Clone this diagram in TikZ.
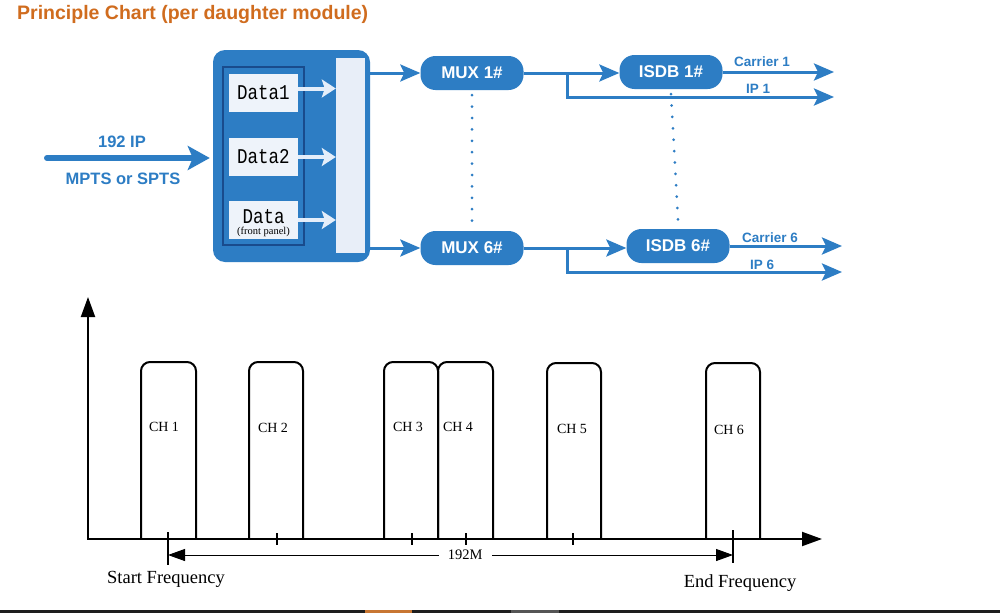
\documentclass[tikz,border=0pt]{standalone}
\usepackage{fontspec}
\setmainfont{Liberation Serif}
\newfontfamily\arialf{Liberation Sans}
\newfontfamily\monof{Liberation Mono}
\usetikzlibrary{arrows.meta}
\definecolor{mblue}{RGB}{45,125,196}
\definecolor{dborder}{RGB}{25,75,140}
\definecolor{dbox}{RGB}{238,243,250}
\definecolor{barfill}{RGB}{232,238,248}
\definecolor{wline}{RGB}{228,238,250}
\definecolor{ttl}{RGB}{208,108,30}
\definecolor{botbar}{RGB}{30,30,30}
\definecolor{botor}{RGB}{200,118,50}
\definecolor{botgr}{RGB}{85,85,85}
\begin{document}
\begin{tikzpicture}[x=1pt,y=-1pt,
  pill/.style={fill=mblue, rounded corners=15pt, minimum width=103pt, minimum height=34pt,
    inner sep=0pt, text=white, font=\arialf\bfseries\fontsize{17}{20}\selectfont},
  bluelabel/.style={text=mblue, inner sep=0pt, font=\arialf\bfseries\fontsize{13.5}{16}\selectfont},
  inlabel/.style={text=mblue, inner sep=0pt, font=\arialf\bfseries\fontsize{16.5}{19}\selectfont},
  bline/.style={draw=mblue, line width=3pt, -{Stealth[length=20pt,width=17pt,inset=4pt]}},
  databox/.style={fill=dbox, minimum width=69pt, minimum height=38pt, inner sep=0pt},
  dataf/.style={font=\monof\fontsize{17.5}{20}\selectfont},
  warrow/.style={draw=wline, line width=4pt, -{Stealth[length=14pt,width=18pt,inset=3pt]}},
  dotline/.style={draw=mblue, line width=3pt, line cap=round, dash pattern=on 0pt off 11.4pt},
  axis/.style={draw=black, line width=2pt, -{Triangle[length=20pt,width=14pt]}},
  chan/.style={draw=black, line width=2pt, rounded corners=9pt},
  chlabel/.style={inner sep=0pt, font=\fontsize{14}{16}\selectfont},
  freq/.style={inner sep=0pt, font=\fontsize{18.5}{20}\selectfont}
]
\useasboundingbox (0,0) rectangle (1000,613);
\fill[white] (0,0) rectangle (1000,613);

% title
\node[anchor=west, inner sep=0pt, text=ttl, font=\arialf\bfseries\fontsize{19.5}{22}\selectfont] (title) at (17,15) {Principle Chart (per daughter module)};

% input
\node[inlabel] (ip192) at (122,142) {192 IP};
\node[inlabel] (mpts) at (123,179) {MPTS or SPTS};
\coordinate (src) at (47,158);

% big box
\node[fill=mblue, rounded corners=12pt, minimum width=157pt, minimum height=212pt, inner sep=0pt] (bigbox) at (291.5,156) {};
\draw[draw=mblue, line width=6pt, line cap=round, -{Stealth[length=22pt,width=24pt,inset=5pt]}] (src) -- ([xshift=-3pt]src -| bigbox.west);
\node[draw=dborder, line width=1.4pt, minimum width=81pt, minimum height=178pt, inner sep=0pt] (inner) at (263.5,156) {};
\node[databox, dataf] (data1) at (263.5,92.5) {\scalebox{1}[1.2]{Data1}};
\node[databox, dataf] (data2) at (263.5,157) {\scalebox{1}[1.2]{Data2}};
\node[databox] (data3) at (263.5,220) {};
\node[dataf, inner sep=0pt] (data3t) at (263.5,217) {\scalebox{1}[1.2]{Data}};
\node[inner sep=0pt, font=\fontsize{10.5}{11}\selectfont] (data3s) at (263.5,232) {(front panel)};
\node[fill=barfill, minimum width=29pt, minimum height=195pt, inner sep=0pt] (bar) at (350.5,155.5) {};
\draw[warrow] ([yshift=4pt]data1.east) -- ([yshift=4pt]data1.east -| bar.west);
\draw[warrow] (data2.east) -- (data2.east -| bar.west);
\draw[warrow] (data3.east) -- (data3.east -| bar.west);

% mux and isdb
\node[pill] (mux1) at (472,73) {MUX 1\#};
\node[pill] (mux6) at (472,248) {MUX 6\#};
\node[pill] (isdb1) at (671,72) {ISDB 1\#};
\node[pill] (isdb6) at (678,246) {ISDB 6\#};

\draw[bline] (bigbox.east |- mux1.west) -- (mux1.west);
\draw[bline] (bigbox.east |- mux6.west) -- (mux6.west);
\draw[bline] (mux1.east) -- (mux1.east -| isdb1.west);
\draw[bline] (mux6.east) -- (mux6.east -| isdb6.west);

\coordinate (b1) at (567,73);
\coordinate (ip1) at (834,97);
\coordinate (b6) at (567,248);
\coordinate (ip6) at (842,272);
\draw[bline] (b1) |- (ip1);
\draw[bline] (b6) |- (ip6);
\draw[bline] (isdb1.east) -- (isdb1.east -| ip1);
\draw[bline] (isdb6.east) -- (isdb6.east -| ip6);

\node[bluelabel] (car1) at (762,62) {Carrier 1};
\node[bluelabel] (lip1) at (758,89) {IP 1};
\node[bluelabel] (car6) at (770,238) {Carrier 6};
\node[bluelabel] (lip6) at (762,265) {IP 6};

\draw[dotline] ([yshift=-5pt]mux1.south) -- ([yshift=9pt]mux6.north);
\draw[dotline] ([yshift=-5pt]isdb1.south) -- ([yshift=9pt]isdb6.north);

% spectrum chart
\coordinate (org) at (88,539);
\coordinate (ytop) at (88,297);
\coordinate (xend) at (822,539);
\draw[axis] (org) -- (ytop);
\draw[axis] ([xshift=-1pt]org) -- (xend);

\draw[chan] (141,539) -- (141,362) -- (196,362) -- (196,539);
\draw[chan] (249,539) -- (249,362) -- (303,362) -- (303,539);
\draw[chan] (384,539) -- (384,362) -- (438,362) -- (438,539);
\draw[chan] (438,539) -- (438,362) -- (493,362) -- (493,539);
\draw[chan] (547,539) -- (547,363) -- (601,363) -- (601,539);
\draw[chan] (706,539) -- (706,363) -- (760,363) -- (760,539);

\node[chlabel] (ch1) at (164,427) {CH 1};
\node[chlabel] (ch2) at (273,428) {CH 2};
\node[chlabel] (ch3) at (408,427) {CH 3};
\node[chlabel] (ch4) at (458,427) {CH 4};
\node[chlabel] (ch5) at (572,429) {CH 5};
\node[chlabel] (ch6) at (729,430) {CH 6};

\foreach \tx in {277,412,466,573} \draw[line width=1.6pt] (\tx,533) -- (\tx,545);

\coordinate (sf) at (168,555);
\coordinate (ef) at (733,555);
\draw[line width=2pt] (168,532) -- (168,565);
\draw[line width=2pt] (733,530) -- (733,563);
\draw[line width=1pt, {Triangle[length=17pt,width=12pt]}-{Triangle[length=17pt,width=12pt]}] (sf) -- (ef)
  node[pos=0.526, fill=white, inner xsep=9pt, inner ysep=2pt, font=\fontsize{14.5}{16}\selectfont] (dim) {192M};

\node[freq] (startf) at (166,579) {Start Frequency};
\node[freq] (endf) at (740,583) {End Frequency};

% bottom bar
\fill[botbar] (0,610) rectangle (1000,613);
\fill[botor] (365,610) rectangle (412,613);
\fill[botgr] (511,610) rectangle (559,613);
\end{tikzpicture}
\end{document}
